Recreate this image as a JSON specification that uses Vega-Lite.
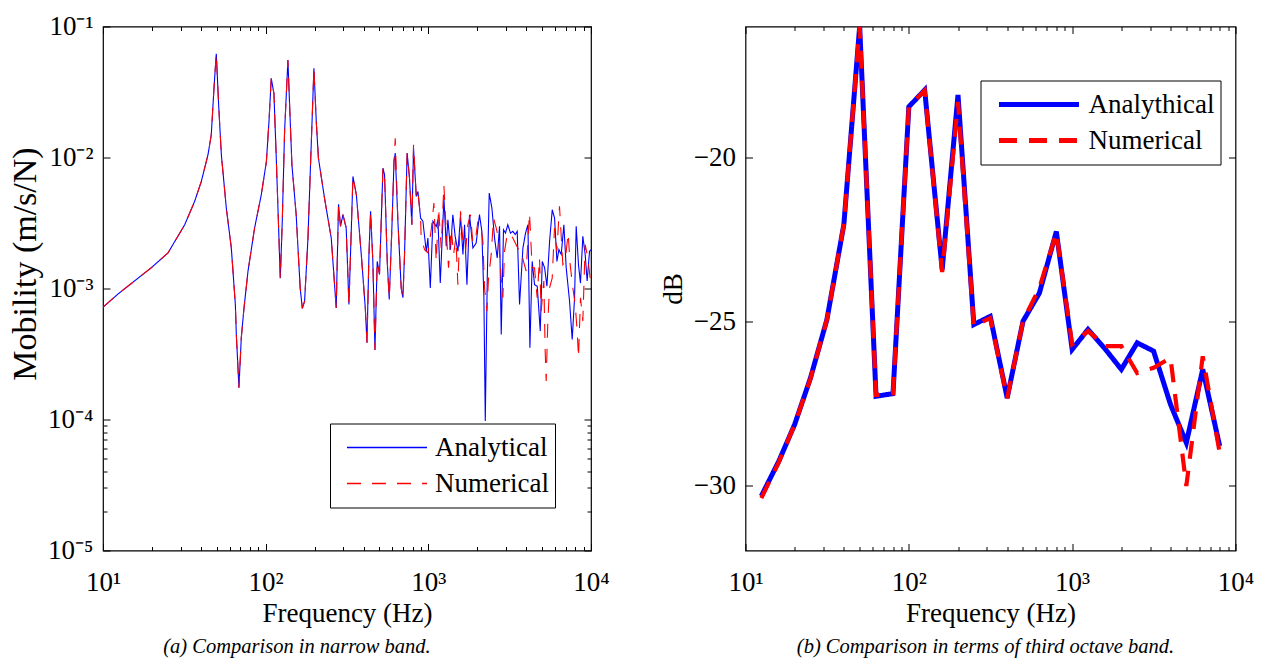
{
  "$schema": "https://vega.github.io/schema/vega-lite/v6.json",
  "background": "white",
  "padding": {"left": 7, "top": 11.5, "right": 5, "bottom": 2},
  "config": {
    "font": "Liberation Serif, serif",
    "view": {"stroke": "black", "strokeWidth": 1.2},
    "axis": {"grid": false, "domain": false, "labelFont": "Liberation Serif, serif", "titleFont": "Liberation Serif, serif", "labelColor": "black", "titleColor": "black", "tickColor": "black", "labelFontSize": 27, "titleFontSize": 27, "titleFontWeight": "normal", "labelOverlap": false, "labelFlush": false, "tickWidth": 1},
    "legend": {"title": null, "symbolType": "stroke", "symbolSize": 6400, "clipHeight": 36, "labelFont": "Liberation Serif, serif", "labelFontSize": 27, "labelColor": "black", "labelOffset": 7, "padding": 6, "symbolOffset": 10, "strokeColor": "black", "fillColor": "white", "rowPadding": 0, "labelLimit": 0}
  },
  "spacing": 47.5,
  "resolve": {"scale": {"color": "independent", "strokeDash": "independent"}, "legend": {"color": "independent", "strokeDash": "independent"}},
  "datasets": {
    "la": [
      {"series":"Analytical","f":10,"m":0.00072},{"series":"Analytical","f":12.4,"m":0.00091},{"series":"Analytical","f":15.6,"m":0.00114},{"series":"Analytical","f":19.8,"m":0.00144},{"series":"Analytical","f":25.1,"m":0.00187},{"series":"Analytical","f":31.8,"m":0.00307},{"series":"Analytical","f":36.6,"m":0.00463},{"series":"Analytical","f":40.2,"m":0.00656},{"series":"Analytical","f":44.2,"m":0.0105},{"series":"Analytical","f":46.3,"m":0.0149},{"series":"Analytical","f":48.1,"m":0.0337},{"series":"Analytical","f":49.7,"m":0.062},{"series":"Analytical","f":51.4,"m":0.0252},{"series":"Analytical","f":53.4,"m":0.0105},{"series":"Analytical","f":57.3,"m":0.00411},{"series":"Analytical","f":61.5,"m":0.00204},{"series":"Analytical","f":65.1,"m":0.000755},{"series":"Analytical","f":66,"m":0.000447},{"series":"Analytical","f":68.5,"m":0.000175},{"series":"Analytical","f":70.8,"m":0.00042},{"series":"Analytical","f":73.6,"m":0.00071},{"series":"Analytical","f":77.9,"m":0.00136},{"series":"Analytical","f":85.5,"m":0.0029},{"series":"Analytical","f":94,"m":0.0052},{"series":"Analytical","f":101,"m":0.0093},{"series":"Analytical","f":104.8,"m":0.0188},{"series":"Analytical","f":108.2,"m":0.0402},{"series":"Analytical","f":112.4,"m":0.0309},{"series":"Analytical","f":116,"m":0.0105},{"series":"Analytical","f":119,"m":0.00411},{"series":"Analytical","f":123,"m":0.0012},{"series":"Analytical","f":126.5,"m":0.00326},{"series":"Analytical","f":130.7,"m":0.0158},{"series":"Analytical","f":137,"m":0.0555},{"series":"Analytical","f":141.6,"m":0.0188},{"series":"Analytical","f":145,"m":0.0088},{"series":"Analytical","f":154,"m":0.00366},{"series":"Analytical","f":163,"m":0.00101},{"series":"Analytical","f":168,"m":0.000705},{"series":"Analytical","f":173.5,"m":0.0008},{"series":"Analytical","f":182,"m":0.00243},{"series":"Analytical","f":189,"m":0.0093},{"series":"Analytical","f":198,"m":0.0479},{"series":"Analytical","f":204.7,"m":0.0188},{"series":"Analytical","f":211,"m":0.0099},{"series":"Analytical","f":230,"m":0.0049},{"series":"Analytical","f":253,"m":0.00243},{"series":"Analytical","f":271.5,"m":0.00071},{"series":"Analytical","f":280.5,"m":0.0044},{"series":"Analytical","f":288.5,"m":0.00298},{"series":"Analytical","f":298.5,"m":0.00366},{"series":"Analytical","f":312.6,"m":0.0029},{"series":"Analytical","f":325,"m":0.000755},{"series":"Analytical","f":344,"m":0.00717},{"series":"Analytical","f":361,"m":0.0052},{"series":"Analytical","f":387,"m":0.00182},{"series":"Analytical","f":409.7,"m":0.00071},{"series":"Analytical","f":419.6,"m":0.000386},{"series":"Analytical","f":431.5,"m":0.00182},{"series":"Analytical","f":441.6,"m":0.00388},{"series":"Analytical","f":456,"m":0.00161},{"series":"Analytical","f":469.7,"m":0.000339},{"series":"Analytical","f":485,"m":0.00161},{"series":"Analytical","f":501,"m":0.00128},{"series":"Analytical","f":526,"m":0.0083},{"series":"Analytical","f":538,"m":0.0074},{"series":"Analytical","f":559,"m":0.00161},{"series":"Analytical","f":575,"m":0.000824},{"series":"Analytical","f":597,"m":0.0029},{"series":"Analytical","f":615,"m":0.0093},{"series":"Analytical","f":626,"m":0.0108},{"series":"Analytical","f":650,"m":0.00326},{"series":"Analytical","f":681,"m":0.00101},{"series":"Analytical","f":698,"m":0.00085},{"series":"Analytical","f":714,"m":0.00182},{"series":"Analytical","f":741,"m":0.0108},{"series":"Analytical","f":766,"m":0.00695},{"series":"Analytical","f":792,"m":0.00307},{"series":"Analytical","f":811,"m":0.0118},{"series":"Analytical","f":843,"m":0.00505},{"series":"Analytical","f":863,"m":0.0055},{"series":"Analytical","f":896,"m":0.00345},{"series":"Analytical","f":926,"m":0.00326},{"series":"Analytical","f":971,"m":0.00192},
      {"series":"Analytical","f":994,"m":0.00243},{"series":"Analytical","f":1028,"m":0.00101},{"series":"Analytical","f":1067,"m":0.00326},{"series":"Analytical","f":1119,"m":0.00298},{"series":"Analytical","f":1146,"m":0.00335},{"series":"Analytical","f":1184,"m":0.0011},{"series":"Analytical","f":1247,"m":0.0049},{"series":"Analytical","f":1288,"m":0.0021},{"series":"Analytical","f":1319,"m":0.00335},{"series":"Analytical","f":1368,"m":0.00198},{"series":"Analytical","f":1415,"m":0.00366},{"series":"Analytical","f":1462,"m":0.0025},{"series":"Analytical","f":1520,"m":0.00192},{"series":"Analytical","f":1578,"m":0.00356},{"series":"Analytical","f":1632,"m":0.00182},{"series":"Analytical","f":1670,"m":0.00307},{"series":"Analytical","f":1727,"m":0.00107},{"series":"Analytical","f":1791,"m":0.00366},{"series":"Analytical","f":1879,"m":0.00204},{"series":"Analytical","f":1968,"m":0.00222},{"series":"Analytical","f":2063,"m":0.00366},{"series":"Analytical","f":2133,"m":0.00273},{"series":"Analytical","f":2196,"m":0.00085},{"series":"Analytical","f":2239,"m":0.0000975},{"series":"Analytical","f":2303,"m":0.0012},{"series":"Analytical","f":2368,"m":0.00535},{"series":"Analytical","f":2459,"m":0.00411},{"series":"Analytical","f":2553,"m":0.00243},{"series":"Analytical","f":2651,"m":0.00171},{"series":"Analytical","f":2740,"m":0.00298},{"series":"Analytical","f":2806,"m":0.000446},{"series":"Analytical","f":2898,"m":0.00281},{"series":"Analytical","f":2981,"m":0.00265},{"series":"Analytical","f":3080,"m":0.00307},{"series":"Analytical","f":3198,"m":0.00265},{"series":"Analytical","f":3309,"m":0.00273},{"series":"Analytical","f":3420,"m":0.00258},{"series":"Analytical","f":3519,"m":0.00273},{"series":"Analytical","f":3637,"m":0.000755},{"series":"Analytical","f":3815,"m":0.00204},{"series":"Analytical","f":3960,"m":0.00265},{"series":"Analytical","f":4095,"m":0.00307},{"series":"Analytical","f":4211,"m":0.000353},{"series":"Analytical","f":4350,"m":0.00161},{"series":"Analytical","f":4497,"m":0.00107},{"series":"Analytical","f":4673,"m":0.00104},{"series":"Analytical","f":4876,"m":0.000473},{"series":"Analytical","f":5016,"m":0.00161},{"series":"Analytical","f":5186,"m":0.00144},{"series":"Analytical","f":5358,"m":0.00104},{"series":"Analytical","f":5564,"m":0.00229},{"series":"Analytical","f":5778,"m":0.00399},{"series":"Analytical","f":5971,"m":0.00345},{"series":"Analytical","f":6172,"m":0.00161},{"series":"Analytical","f":6350,"m":0.00198},{"series":"Analytical","f":6561,"m":0.00182},{"series":"Analytical","f":6812,"m":0.00307},{"series":"Analytical","f":7040,"m":0.00144},{"series":"Analytical","f":7381,"m":0.0008},{"series":"Analytical","f":7664,"m":0.000408},{"series":"Analytical","f":7925,"m":0.00085},{"series":"Analytical","f":8110,"m":0.00298},{"series":"Analytical","f":8378,"m":0.00152},{"series":"Analytical","f":8616,"m":0.0011},{"series":"Analytical","f":8910,"m":0.0025},{"series":"Analytical","f":9208,"m":0.00182},{"series":"Analytical","f":9469,"m":0.00114},{"series":"Analytical","f":9795,"m":0.00192},{"series":"Analytical","f":10000,"m":0.00198}
    ],
    "ln": [
      {"series":"Numerical","f":10,"m":0.00072},{"series":"Numerical","f":12.4,"m":0.00091},{"series":"Numerical","f":15.6,"m":0.00114},{"series":"Numerical","f":19.8,"m":0.00144},{"series":"Numerical","f":25.1,"m":0.00187},{"series":"Numerical","f":31.8,"m":0.00307},{"series":"Numerical","f":36.6,"m":0.00463},{"series":"Numerical","f":40.2,"m":0.00656},{"series":"Numerical","f":44.2,"m":0.0105},{"series":"Numerical","f":46.3,"m":0.0149},{"series":"Numerical","f":48.1,"m":0.0337},{"series":"Numerical","f":49.7,"m":0.062},{"series":"Numerical","f":51.4,"m":0.0252},{"series":"Numerical","f":53.4,"m":0.0105},{"series":"Numerical","f":57.3,"m":0.00411},{"series":"Numerical","f":61.5,"m":0.00204},{"series":"Numerical","f":65.1,"m":0.000755},{"series":"Numerical","f":66,"m":0.000447},{"series":"Numerical","f":68.5,"m":0.000175},{"series":"Numerical","f":70.8,"m":0.00042},{"series":"Numerical","f":73.6,"m":0.00071},{"series":"Numerical","f":77.9,"m":0.00136},{"series":"Numerical","f":85.5,"m":0.0029},{"series":"Numerical","f":94,"m":0.0052},{"series":"Numerical","f":101,"m":0.0093},{"series":"Numerical","f":104.8,"m":0.0188},{"series":"Numerical","f":108.2,"m":0.0402},{"series":"Numerical","f":112.4,"m":0.0309},{"series":"Numerical","f":116,"m":0.0105},{"series":"Numerical","f":119,"m":0.00411},{"series":"Numerical","f":123,"m":0.0012},{"series":"Numerical","f":126.5,"m":0.00326},{"series":"Numerical","f":130.7,"m":0.0158},{"series":"Numerical","f":137,"m":0.0555},{"series":"Numerical","f":141.6,"m":0.0188},{"series":"Numerical","f":145,"m":0.0088},{"series":"Numerical","f":154,"m":0.00366},{"series":"Numerical","f":163,"m":0.00101},{"series":"Numerical","f":168,"m":0.000705},{"series":"Numerical","f":173.5,"m":0.0008},{"series":"Numerical","f":182,"m":0.00243},{"series":"Numerical","f":189,"m":0.0093},{"series":"Numerical","f":198,"m":0.0479},{"series":"Numerical","f":204.7,"m":0.0188},{"series":"Numerical","f":211,"m":0.0099},{"series":"Numerical","f":230,"m":0.0049},{"series":"Numerical","f":253,"m":0.00243},{"series":"Numerical","f":271.5,"m":0.00071},{"series":"Numerical","f":280.5,"m":0.0044},{"series":"Numerical","f":288.5,"m":0.00298},{"series":"Numerical","f":298.5,"m":0.00366},{"series":"Numerical","f":312.6,"m":0.0029},{"series":"Numerical","f":325,"m":0.000755},{"series":"Numerical","f":344,"m":0.00717},{"series":"Numerical","f":361,"m":0.0052},{"series":"Numerical","f":387,"m":0.00182},{"series":"Numerical","f":409.7,"m":0.00071},{"series":"Numerical","f":419.6,"m":0.000386},{"series":"Numerical","f":431.5,"m":0.00182},{"series":"Numerical","f":441.6,"m":0.00388},{"series":"Numerical","f":456,"m":0.00161},{"series":"Numerical","f":469.7,"m":0.000339},{"series":"Numerical","f":485,"m":0.00161},{"series":"Numerical","f":501,"m":0.00128},{"series":"Numerical","f":526,"m":0.0083},{"series":"Numerical","f":538,"m":0.0074},{"series":"Numerical","f":559,"m":0.00161},{"series":"Numerical","f":575,"m":0.000824},{"series":"Numerical","f":597,"m":0.0029},{"series":"Numerical","f":615,"m":0.0093},{"series":"Numerical","f":626,"m":0.014},{"series":"Numerical","f":650,"m":0.00326},{"series":"Numerical","f":681,"m":0.00101},{"series":"Numerical","f":698,"m":0.00085},{"series":"Numerical","f":714,"m":0.00182},{"series":"Numerical","f":741,"m":0.0108},{"series":"Numerical","f":766,"m":0.00695},{"series":"Numerical","f":792,"m":0.00307},{"series":"Numerical","f":811,"m":0.0125},{"series":"Numerical","f":843,"m":0.00505},{"series":"Numerical","f":863,"m":0.0055},{"series":"Numerical","f":896,"m":0.00345},
      {"series":"Numerical","f":904,"m":0.00243},{"series":"Numerical","f":948,"m":0.00198},{"series":"Numerical","f":994,"m":0.00187},{"series":"Numerical","f":1042,"m":0.00281},{"series":"Numerical","f":1082,"m":0.00449},{"series":"Numerical","f":1118,"m":0.00161},{"series":"Numerical","f":1156,"m":0.00411},{"series":"Numerical","f":1200,"m":0.00204},{"series":"Numerical","f":1246,"m":0.00619},{"series":"Numerical","f":1288,"m":0.00273},{"series":"Numerical","f":1331,"m":0.00144},{"series":"Numerical","f":1383,"m":0.0029},{"series":"Numerical","f":1429,"m":0.00182},{"series":"Numerical","f":1477,"m":0.00243},{"series":"Numerical","f":1519,"m":0.00107},{"series":"Numerical","f":1578,"m":0.00388},{"series":"Numerical","f":1631,"m":0.00229},{"series":"Numerical","f":1693,"m":0.00192},{"series":"Numerical","f":1750,"m":0.00307},{"series":"Numerical","f":1816,"m":0.00366},{"series":"Numerical","f":1878,"m":0.00223},{"series":"Numerical","f":1942,"m":0.00229},{"series":"Numerical","f":2016,"m":0.00326},{"series":"Numerical","f":2094,"m":0.00307},{"series":"Numerical","f":2164,"m":0.00229},{"series":"Numerical","f":2216,"m":0.00101},{"series":"Numerical","f":2290,"m":0.000671},{"series":"Numerical","f":2344,"m":0.0012},{"series":"Numerical","f":2435,"m":0.00182},{"series":"Numerical","f":2516,"m":0.00345},{"series":"Numerical","f":2613,"m":0.0029},{"series":"Numerical","f":2701,"m":0.00243},{"series":"Numerical","f":2805,"m":0.0012},{"series":"Numerical","f":2872,"m":0.00085},{"series":"Numerical","f":2940,"m":0.00192},{"series":"Numerical","f":3053,"m":0.00258},{"series":"Numerical","f":3155,"m":0.00265},{"series":"Numerical","f":3307,"m":0.00243},{"series":"Numerical","f":3467,"m":0.00216},{"series":"Numerical","f":3635,"m":0.00192},{"series":"Numerical","f":3722,"m":0.00192},{"series":"Numerical","f":3846,"m":0.00161},{"series":"Numerical","f":3994,"m":0.00136},{"series":"Numerical","f":4187,"m":0.00377},{"series":"Numerical","f":4348,"m":0.00144},{"series":"Numerical","f":4494,"m":0.00144},{"series":"Numerical","f":4667,"m":0.00085},{"series":"Numerical","f":4824,"m":0.00171},{"series":"Numerical","f":4940,"m":0.000671},{"series":"Numerical","f":5130,"m":0.00114},{"series":"Numerical","f":5227,"m":0.000333},{"series":"Numerical","f":5302,"m":0.000197},{"series":"Numerical","f":5429,"m":0.000564},{"series":"Numerical","f":5558,"m":0.00101},{"series":"Numerical","f":5772,"m":0.0012},{"series":"Numerical","f":5965,"m":0.0029},{"series":"Numerical","f":6166,"m":0.00192},{"series":"Numerical","f":6403,"m":0.00424},{"series":"Numerical","f":6713,"m":0.00152},{"series":"Numerical","f":6939,"m":0.00161},{"series":"Numerical","f":7238,"m":0.00265},{"series":"Numerical","f":7447,"m":0.00152},{"series":"Numerical","f":7734,"m":0.00101},{"series":"Numerical","f":7994,"m":0.000755},{"series":"Numerical","f":8222,"m":0.000473},{"series":"Numerical","f":8379,"m":0.000296},{"series":"Numerical","f":8619,"m":0.00085},{"series":"Numerical","f":8909,"m":0.000564},{"series":"Numerical","f":9208,"m":0.00216},{"series":"Numerical","f":9561,"m":0.00171},{"series":"Numerical","f":9929,"m":0.00114}
    ],
    "ra": [
      {"series":"Analythical","f":12.5,"db":-30.34},{"series":"Analythical","f":16,"db":-29.27},{"series":"Analythical","f":20,"db":-28.15},{"series":"Analythical","f":25,"db":-26.73},{"series":"Analythical","f":31.5,"db":-24.95},{"series":"Analythical","f":40,"db":-22.05},{"series":"Analythical","f":50,"db":-16.0},{"series":"Analythical","f":63,"db":-27.29},{"series":"Analythical","f":80,"db":-27.21},{"series":"Analythical","f":100,"db":-18.45},{"series":"Analythical","f":125,"db":-17.94},{"series":"Analythical","f":160,"db":-23.42},{"series":"Analythical","f":200,"db":-18.09},{"series":"Analythical","f":250,"db":-25.1},{"series":"Analythical","f":315,"db":-24.85},{"series":"Analythical","f":400,"db":-27.34},{"series":"Analythical","f":500,"db":-25.0},{"series":"Analythical","f":630,"db":-24.14},{"series":"Analythical","f":800,"db":-22.26},{"series":"Analythical","f":1000,"db":-25.86},{"series":"Analythical","f":1250,"db":-25.25},{"series":"Analythical","f":1600,"db":-25.86},{"series":"Analythical","f":2000,"db":-26.47},{"series":"Analythical","f":2500,"db":-25.66},{"series":"Analythical","f":3150,"db":-25.91},{"series":"Analythical","f":4000,"db":-27.54},{"series":"Analythical","f":5000,"db":-28.71},{"series":"Analythical","f":6300,"db":-26.47},{"series":"Analythical","f":8000,"db":-28.81}
    ],
    "rn": [
      {"series":"Numerical","f":12.5,"db":-30.4},{"series":"Numerical","f":16,"db":-29.3},{"series":"Numerical","f":20,"db":-28.15},{"series":"Numerical","f":25,"db":-26.75},{"series":"Numerical","f":31.5,"db":-24.95},{"series":"Numerical","f":40,"db":-22.05},{"series":"Numerical","f":50,"db":-16.0},{"series":"Numerical","f":63,"db":-27.25},{"series":"Numerical","f":80,"db":-27.2},{"series":"Numerical","f":100,"db":-18.45},{"series":"Numerical","f":125,"db":-17.95},{"series":"Numerical","f":160,"db":-23.5},{"series":"Numerical","f":200,"db":-18.3},{"series":"Numerical","f":250,"db":-25.15},{"series":"Numerical","f":315,"db":-24.9},{"series":"Numerical","f":400,"db":-27.35},{"series":"Numerical","f":500,"db":-25.0},{"series":"Numerical","f":630,"db":-23.98},{"series":"Numerical","f":800,"db":-22.3},{"series":"Numerical","f":1000,"db":-25.7},{"series":"Numerical","f":1250,"db":-25.3},{"series":"Numerical","f":1600,"db":-25.76},{"series":"Numerical","f":2000,"db":-25.76},{"series":"Numerical","f":2500,"db":-26.58},{"series":"Numerical","f":3150,"db":-26.42},{"series":"Numerical","f":4000,"db":-26.12},{"series":"Numerical","f":5000,"db":-30.03},{"series":"Numerical","f":6300,"db":-26.07},{"series":"Numerical","f":8000,"db":-29.01}
    ]
  },
  "hconcat": [
    {
      "width": 488,
      "height": 524,
      "title": {"text": "(a) Comparison in narrow band.", "orient": "bottom", "anchor": "middle", "frame": "group", "dx": -50, "offset": 10, "font": "Liberation Serif, serif", "fontStyle": "italic", "fontWeight": "normal", "fontSize": 20.5, "color": "black"},
      "resolve": {"axis": {"x": "independent", "y": "independent"}},
      "layer": [
        {
          "data": {"name": "la"},
          "mark": {"type": "line", "strokeWidth": 1.1, "clip": true},
          "encoding": {
            "x": {"field": "f", "type": "quantitative", "scale": {"type": "log", "domain": [10, 10000], "nice": false},
              "axis": {"orient": "bottom", "values": [10,20,30,40,50,60,70,80,90,100,200,300,400,500,600,700,800,900,1000,2000,3000,4000,5000,6000,7000,8000,9000,10000],
                "labelExpr": "datum.value==10?'10¹':datum.value==100?'10²':datum.value==1000?'10³':datum.value==10000?'10⁴':''",
                "tickSize": {"condition": {"test": "datum.value==10||datum.value==100||datum.value==1000||datum.value==10000", "value": -7}, "value": -4},
                "labelPadding": 26, "title": "Frequency (Hz)", "titleY": 71, "titleBaseline": "alphabetic"}},
            "y": {"field": "m", "type": "quantitative", "scale": {"type": "log", "domain": [0.00001, 0.1], "nice": false},
              "axis": {"orient": "left", "values": [0.00001,0.00002,0.00003,0.00004,0.00005,0.00006,0.00007,0.00008,0.00009,0.0001,0.001,0.01,0.1],
                "labelExpr": "datum.value==0.1?'10⁻¹':datum.value==0.01?'10⁻²':datum.value==0.001?'10⁻³':datum.value==0.0001?'10⁻⁴':datum.value==0.00001?'10⁻⁵':''",
                "tickSize": {"condition": {"test": "datum.value==0.1||datum.value==0.01||datum.value==0.001||datum.value==0.0001||datum.value==0.00001", "value": -7}, "value": -4},
                "labelPadding": 17, "title": "Mobility (m/s/N)", "titleFontSize": 34, "titleX": -77.5, "titleY": 237, "titleBaseline": "middle", "titleAngle": 270}},
            "color": {"field": "series", "type": "nominal", "scale": {"domain": ["Analytical", "Numerical"], "range": ["#0000ff", "#ff0000"]},
              "legend": {"orient": "none", "legendX": 227, "legendY": 397, "symbolStrokeWidth": 1.3}},
            "strokeDash": {"field": "series", "type": "nominal", "scale": {"domain": ["Analytical", "Numerical"], "range": [[1, 0], [14, 11]]},
              "legend": {"orient": "none", "legendX": 227, "legendY": 397, "symbolStrokeWidth": 1.3}}
          }
        },
        {
          "data": {"name": "ln"},
          "mark": {"type": "line", "strokeWidth": 1.1, "clip": true},
          "encoding": {
            "x": {"field": "f", "type": "quantitative", "scale": {"type": "log", "domain": [10, 10000], "nice": false},
              "axis": {"orient": "top", "values": [10,20,30,40,50,60,70,80,90,100,200,300,400,500,600,700,800,900,1000,2000,3000,4000,5000,6000,7000,8000,9000,10000],
                "labels": false, "title": null,
                "tickSize": {"condition": {"test": "datum.value==10||datum.value==100||datum.value==1000||datum.value==10000", "value": -7}, "value": -4}}},
            "y": {"field": "m", "type": "quantitative", "scale": {"type": "log", "domain": [0.00001, 0.1], "nice": false},
              "axis": {"orient": "right", "values": [0.00001,0.00002,0.00003,0.00004,0.00005,0.00006,0.00007,0.00008,0.00009,0.0001,0.001,0.01,0.1],
                "labels": false, "title": null,
                "tickSize": {"condition": {"test": "datum.value==0.1||datum.value==0.01||datum.value==0.001||datum.value==0.0001||datum.value==0.00001", "value": -7}, "value": -4}}},
            "color": {"field": "series", "type": "nominal", "scale": {"domain": ["Analytical", "Numerical"], "range": ["#0000ff", "#ff0000"]},
              "legend": {"orient": "none", "legendX": 227, "legendY": 397, "symbolStrokeWidth": 1.3}},
            "strokeDash": {"field": "series", "type": "nominal", "scale": {"domain": ["Analytical", "Numerical"], "range": [[1, 0], [14, 11]]},
              "legend": {"orient": "none", "legendX": 227, "legendY": 397, "symbolStrokeWidth": 1.3}}
          }
        }
      ]
    },
    {
      "width": 490,
      "height": 524,
      "title": {"text": "(b) Comparison in terms of third octave band.", "orient": "bottom", "anchor": "middle", "frame": "group", "dx": -5, "offset": 10, "font": "Liberation Serif, serif", "fontStyle": "italic", "fontWeight": "normal", "fontSize": 20.5, "color": "black"},
      "resolve": {"axis": {"x": "independent", "y": "independent"}},
      "layer": [
        {
          "data": {"name": "ra"},
          "mark": {"type": "line", "strokeWidth": 5, "clip": true},
          "encoding": {
            "x": {"field": "f", "type": "quantitative", "scale": {"type": "log", "domain": [10, 10000], "nice": false},
              "axis": {"orient": "bottom", "values": [10,20,30,40,50,60,70,80,90,100,200,300,400,500,600,700,800,900,1000,2000,3000,4000,5000,6000,7000,8000,9000,10000],
                "labelExpr": "datum.value==10?'10¹':datum.value==100?'10²':datum.value==1000?'10³':datum.value==10000?'10⁴':''",
                "tickSize": {"condition": {"test": "datum.value==10||datum.value==100||datum.value==1000||datum.value==10000", "value": -7}, "value": -4},
                "labelPadding": 26, "title": "Frequency (Hz)", "titleY": 71, "titleBaseline": "alphabetic"}},
            "y": {"field": "db", "type": "quantitative", "scale": {"domain": [-32, -16], "nice": false, "zero": false},
              "axis": {"orient": "left", "values": [-30, -25, -20], "tickSize": -7, "labelPadding": 17,
                "title": "dB", "titleX": -72.5, "titleY": 262, "titleBaseline": "middle", "titleAngle": 270}},
            "color": {"field": "series", "type": "nominal", "scale": {"domain": ["Analythical", "Numerical"], "range": ["#0000ff", "#ff0000"]},
              "legend": {"orient": "none", "legendX": 235, "legendY": 54, "symbolStrokeWidth": 5}},
            "strokeDash": {"field": "series", "type": "nominal", "scale": {"domain": ["Analythical", "Numerical"], "range": [[1, 0], [18, 12]]},
              "legend": {"orient": "none", "legendX": 235, "legendY": 54, "symbolStrokeWidth": 5}}
          }
        },
        {
          "data": {"name": "rn"},
          "mark": {"type": "line", "strokeWidth": 4.2, "clip": true},
          "encoding": {
            "x": {"field": "f", "type": "quantitative", "scale": {"type": "log", "domain": [10, 10000], "nice": false},
              "axis": {"orient": "top", "values": [10,20,30,40,50,60,70,80,90,100,200,300,400,500,600,700,800,900,1000,2000,3000,4000,5000,6000,7000,8000,9000,10000],
                "labels": false, "title": null,
                "tickSize": {"condition": {"test": "datum.value==10||datum.value==100||datum.value==1000||datum.value==10000", "value": -7}, "value": -4}}},
            "y": {"field": "db", "type": "quantitative", "scale": {"domain": [-32, -16], "nice": false, "zero": false},
              "axis": {"orient": "right", "values": [-30, -25, -20], "tickSize": -7, "labels": false, "title": null}},
            "color": {"field": "series", "type": "nominal", "scale": {"domain": ["Analythical", "Numerical"], "range": ["#0000ff", "#ff0000"]},
              "legend": {"orient": "none", "legendX": 235, "legendY": 54, "symbolStrokeWidth": 5}},
            "strokeDash": {"field": "series", "type": "nominal", "scale": {"domain": ["Analythical", "Numerical"], "range": [[1, 0], [18, 12]]},
              "legend": {"orient": "none", "legendX": 235, "legendY": 54, "symbolStrokeWidth": 5}}
          }
        }
      ]
    }
  ]
}
